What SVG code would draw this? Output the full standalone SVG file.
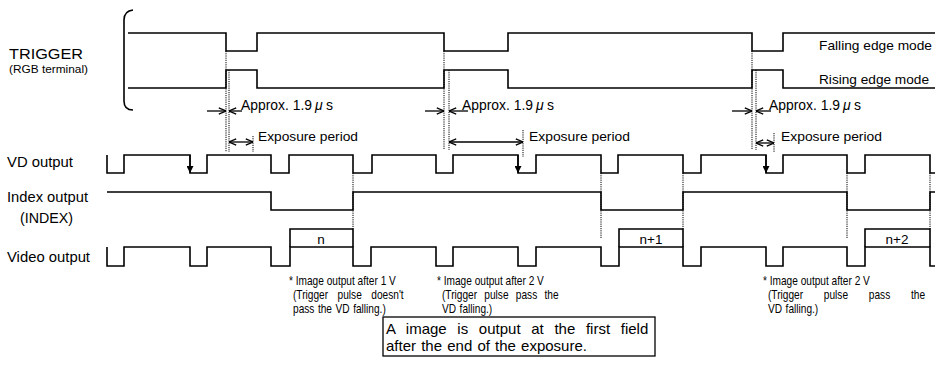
<svg xmlns="http://www.w3.org/2000/svg" width="935" height="374" viewBox="0 0 935 374">
<defs>
<style>
text{font-family:"Liberation Sans",Arial,sans-serif;fill:#000}
.lbl{font-size:14.5px}
.sm{font-size:11px}
.t13{font-size:13.5px}
.ap{font-size:14px}
.ann{font-size:13.5px}
.box{font-size:15px}
.w{fill:none;stroke:#000;stroke-width:1.6;stroke-linejoin:miter}
.dot{fill:none;stroke:#000;stroke-width:1;stroke-dasharray:1.2 1}
.arr{fill:none;stroke:#000;stroke-width:1.3}
</style>
<marker id="ah" viewBox="0 0 10 10" refX="10" refY="5" markerWidth="8" markerHeight="8" markerUnits="userSpaceOnUse" orient="auto-start-reverse">
<path d="M1,1 L10,5 L1,9" fill="none" stroke="#000" stroke-width="1.6"/>
</marker>
<marker id="tri" viewBox="0 0 10 10" refX="10" refY="5" markerWidth="8" markerHeight="7" markerUnits="userSpaceOnUse" orient="auto">
<path d="M0,0 L10,5 L0,10 z" fill="#000"/>
</marker>
</defs>
<rect width="935" height="374" fill="#fff"/>

<g id="labels">
<text class="lbl" x="9" y="59" textLength="74" lengthAdjust="spacingAndGlyphs">TRIGGER</text>
<text class="sm" x="9" y="73" textLength="79" lengthAdjust="spacingAndGlyphs">(RGB terminal)</text>
<text class="lbl" x="7" y="167" textLength="66" lengthAdjust="spacingAndGlyphs">VD output</text>
<text class="lbl" x="7" y="202" textLength="81" lengthAdjust="spacingAndGlyphs">Index output</text>
<text class="lbl" x="20" y="223" textLength="53" lengthAdjust="spacingAndGlyphs">(INDEX)</text>
<text class="lbl" x="7" y="262" textLength="83" lengthAdjust="spacingAndGlyphs">Video output</text>
</g>

<g id="bracket">
<path class="w" d="M133,10 Q124,11 124,20 V101 Q124,110 133,110"/>
</g>

<g id="trigger-falling">
<path class="w" d="M128,33 H226 V51 H257 V33 H444 V51 H508 V33 H752 V51 H783 V33 H935"/>
<text class="t13" x="819" y="50" textLength="113" lengthAdjust="spacingAndGlyphs">Falling edge mode</text>
</g>

<g id="trigger-rising">
<path class="w" d="M128,88 H226 V70 H257 V88 H444 V70 H508 V88 H752 V70 H783 V88 H935"/>
<text class="t13" x="819" y="84" textLength="110" lengthAdjust="spacingAndGlyphs">Rising edge mode</text>
</g>

<g id="vd-output">
<path class="w" d="M107,155 V173 H124 V155 H190 V173 H207 V155 H271 V173 H289 V155 H353 V173 H372 V155 H436 V173 H453 V155 H518 V173 H536 V155 H601 V173 H618 V155 H683 V173 H701 V155 H766 V173 H783 V155 H847 V173 H865 V155 H930 V173 H935"/>
</g>

<g id="index-output">
<path class="w" d="M107,192 H271 V210 H353 V192 H601 V210 H683 V192 H847 V210 H930 V192 H935"/>
</g>

<g id="video-output">
<path class="w" d="M107,247 V266 H124 V247 H190 V266 H207 V247 H271 V266 H290 V247 H353 V266 H371 V247 H436 V266 H453 V247 H518 V266 H536 V247 H601 V266 H619 V247 H683 V266 H701 V247 H766 V266 H783 V247 H847 V266 H865 V247 H930 V266 H935"/>
</g>

<g id="frame-n">
<path class="w" d="M290,247 V229 H353 V247"/>
<text class="t13" x="321" y="244" text-anchor="middle">n</text>
</g>
<g id="frame-n1">
<path class="w" d="M619,247 V229 H683 V247"/>
<text class="t13" x="651" y="244" text-anchor="middle">n+1</text>
</g>
<g id="frame-n2">
<path class="w" d="M865,247 V229 H930 V247"/>
<text class="t13" x="897" y="244" text-anchor="middle">n+2</text>
</g>

<g id="connectors">
<path class="dot" d="M226,51 V152 M229,70 V152 M253,136 V152"/>
<path class="dot" d="M444,51 V150 M449,70 V150 M523,130 V157"/>
<path class="dot" d="M752,51 V150 M756,70 V150 M774,133 V152"/>
<path class="dot" d="M353,173 V229 M601,173 V238 M683,173 V229 M847,173 V238 M930,173 V229"/>
<path class="arr" d="M207,111 H226" marker-end="url(#ah)"/>
<path class="arr" d="M242,111 H229" marker-end="url(#ah)"/>
<path class="arr" d="M425,111 H444" marker-end="url(#ah)"/>
<path class="arr" d="M468,111 H449" marker-end="url(#ah)"/>
<path class="arr" d="M732,111 H752" marker-end="url(#ah)"/>
<path class="arr" d="M771,111 H756" marker-end="url(#ah)"/>
<path class="arr" d="M229,142 H253" marker-start="url(#ah)" marker-end="url(#ah)"/>
<path class="arr" d="M449,142 H523" marker-start="url(#ah)" marker-end="url(#ah)"/>
<path class="arr" d="M756,143 H774" marker-start="url(#ah)" marker-end="url(#ah)"/>
<path class="arr" d="M190,155 V173" marker-end="url(#tri)"/>
<path class="arr" d="M518,155 V173" marker-end="url(#tri)"/>
<path class="arr" d="M766,155 V173" marker-end="url(#tri)"/>
</g>

<g id="approx-labels">
<text class="ap" x="241" y="110" textLength="71" lengthAdjust="spacingAndGlyphs">Approx. 1.9</text>
<text class="ap" x="315" y="110" font-style="italic">μ</text>
<text class="ap" x="326" y="110">s</text>
<text class="ap" x="462" y="110" textLength="71" lengthAdjust="spacingAndGlyphs">Approx. 1.9</text>
<text class="ap" x="536" y="110" font-style="italic">μ</text>
<text class="ap" x="547" y="110">s</text>
<text class="ap" x="769" y="110" textLength="71" lengthAdjust="spacingAndGlyphs">Approx. 1.9</text>
<text class="ap" x="843" y="110" font-style="italic">μ</text>
<text class="ap" x="854" y="110">s</text>
</g>

<g id="exposure-labels">
<text class="t13" x="258" y="141" textLength="100" lengthAdjust="spacingAndGlyphs">Exposure period</text>
<text class="t13" x="529" y="141" textLength="101" lengthAdjust="spacingAndGlyphs">Exposure period</text>
<text class="t13" x="781" y="141" textLength="101" lengthAdjust="spacingAndGlyphs">Exposure period</text>
</g>

<g id="note-1">
<text class="ann" transform="translate(289,285) scale(0.75,1)">* Image output after 1 V</text>
<text class="ann" transform="translate(293,299) scale(0.75,1)" word-spacing="9">(Trigger pulse doesn't</text>
<text class="ann" transform="translate(293,313) scale(0.75,1)" word-spacing="1">pass the VD falling.)</text>
</g>
<g id="note-2">
<text class="ann" transform="translate(437,285) scale(0.75,1)">* Image output after 2 V</text>
<text class="ann" transform="translate(442,299) scale(0.75,1)" word-spacing="6">(Trigger pulse pass the</text>
<text class="ann" transform="translate(442,313) scale(0.75,1)" word-spacing="1">VD falling.)</text>
</g>
<g id="note-3">
<text class="ann" transform="translate(763,285) scale(0.75,1)">* Image output after 2 V</text>
<text class="ann" transform="translate(768,299) scale(0.75,1)" word-spacing="24">(Trigger pulse pass the</text>
<text class="ann" transform="translate(768,313) scale(0.75,1)" word-spacing="1">VD falling.)</text>
</g>

<g id="summary-box">
<rect x="383" y="317" width="272" height="39" fill="none" stroke="#000" stroke-width="1.3"/>
<text class="box" x="386" y="334" word-spacing="6.5">A image is output at the first field</text>
<text class="box" x="386" y="351" word-spacing="1">after the end of the exposure.</text>
</g>
</svg>
